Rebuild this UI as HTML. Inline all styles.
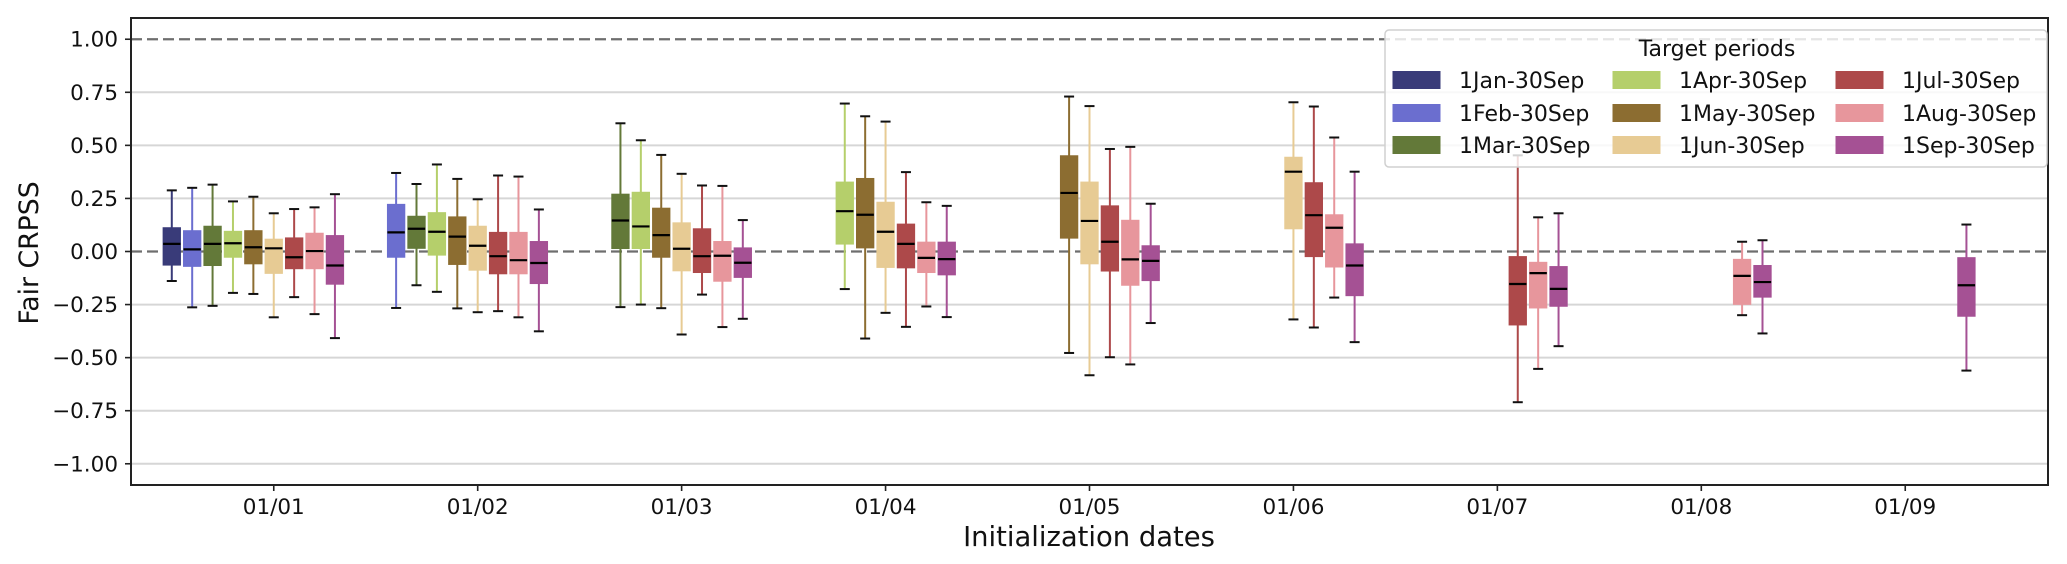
<!DOCTYPE html>
<html><head><meta charset="utf-8"><style>
html,body{margin:0;padding:0;background:#fff;}
svg{display:block;font-family:"DejaVu Sans","Liberation Sans",sans-serif;}
</style></head><body>
<svg id="chart" width="2067" height="564" viewBox="0 0 2067 564" xmlns="http://www.w3.org/2000/svg"></svg>
<script>
const categories = ["01/01","01/02","01/03","01/04","01/05","01/06","01/07","01/08","01/09"];
const seriesNames = ["1Jan-30Sep","1Feb-30Sep","1Mar-30Sep","1Apr-30Sep","1May-30Sep","1Jun-30Sep","1Jul-30Sep","1Aug-30Sep","1Sep-30Sep"];
const seriesColors = ["#393b79","#6b6ecf","#637939","#b5cf6b","#8c6d31","#e7cb94","#ad494a","#e7969c","#a55194"];
const yTicks = [1.0,0.75,0.5,0.25,0.0,-0.25,-0.5,-0.75,-1.0];
const yTickLabels = ["1.00","0.75","0.50","0.25","0.00","\u22120.25","\u22120.50","\u22120.75","\u22121.00"];
// each entry: [category index, series index, low whisker, q1, median, q3, high whisker]
const boxStats = [
 [0,0,-0.139,-0.064,0.036,0.112,0.288],
 [0,1,-0.263,-0.070,0.010,0.098,0.300],
 [0,2,-0.256,-0.066,0.036,0.119,0.315],
 [0,3,-0.195,-0.027,0.039,0.095,0.236],
 [0,4,-0.200,-0.058,0.020,0.098,0.258],
 [0,5,-0.310,-0.103,0.015,0.058,0.180],
 [0,6,-0.215,-0.081,-0.027,0.064,0.200],
 [0,7,-0.295,-0.081,0.002,0.086,0.208],
 [0,8,-0.408,-0.154,-0.066,0.075,0.270],
 [1,1,-0.266,-0.027,0.090,0.222,0.370],
 [1,2,-0.159,0.015,0.107,0.166,0.318],
 [1,3,-0.190,-0.017,0.093,0.183,0.410],
 [1,4,-0.268,-0.061,0.070,0.163,0.342],
 [1,5,-0.286,-0.088,0.027,0.119,0.246],
 [1,6,-0.281,-0.105,-0.022,0.090,0.358],
 [1,7,-0.310,-0.105,-0.041,0.090,0.353],
 [1,8,-0.376,-0.151,-0.054,0.047,0.198],
 [2,2,-0.262,0.014,0.146,0.270,0.604],
 [2,3,-0.250,0.014,0.118,0.279,0.524],
 [2,4,-0.267,-0.027,0.077,0.204,0.455],
 [2,5,-0.391,-0.091,0.013,0.135,0.366],
 [2,6,-0.203,-0.099,-0.022,0.107,0.311],
 [2,7,-0.356,-0.140,-0.020,0.047,0.309],
 [2,8,-0.317,-0.122,-0.053,0.017,0.148],
 [3,3,-0.177,0.035,0.190,0.327,0.697],
 [3,4,-0.410,0.017,0.173,0.344,0.637],
 [3,5,-0.289,-0.075,0.093,0.232,0.612],
 [3,6,-0.355,-0.077,0.036,0.129,0.374],
 [3,7,-0.259,-0.099,-0.030,0.044,0.232],
 [3,8,-0.309,-0.110,-0.036,0.044,0.215],
 [4,4,-0.478,0.063,0.276,0.451,0.730],
 [4,5,-0.583,-0.058,0.144,0.327,0.685],
 [4,6,-0.498,-0.092,0.046,0.215,0.483],
 [4,7,-0.532,-0.159,-0.037,0.147,0.493],
 [4,8,-0.337,-0.137,-0.044,0.027,0.225],
 [5,5,-0.320,0.107,0.376,0.444,0.703],
 [5,6,-0.358,-0.024,0.171,0.324,0.683],
 [5,7,-0.217,-0.073,0.112,0.173,0.537],
 [5,8,-0.427,-0.208,-0.066,0.036,0.376],
 [6,6,-0.710,-0.346,-0.153,-0.024,0.453],
 [6,7,-0.553,-0.266,-0.102,-0.051,0.161],
 [6,8,-0.446,-0.258,-0.176,-0.071,0.180],
 [7,7,-0.300,-0.249,-0.115,-0.037,0.046],
 [7,8,-0.386,-0.215,-0.144,-0.066,0.053],
 [8,8,-0.561,-0.305,-0.159,-0.029,0.127]
];

const NS="http://www.w3.org/2000/svg";
const svg=document.getElementById('chart');
const L=131,R=2048,T=18,B=485;
const xMin=-0.7,xMax=8.7,yMin=-1.1,yMax=1.1;
function xs(v){return L+(v-xMin)/(xMax-xMin)*(R-L);}
function ys(v){return T+(yMax-v)/(yMax-yMin)*(B-T);}
function mk(tag,attrs,parent){const e=document.createElementNS(NS,tag);for(const k in attrs)e.setAttribute(k,attrs[k]);(parent||svg).appendChild(e);return e;}

// grid
const grid=mk('g',{});


yTicks.forEach(v=>{
  if(v===1||v===0)return;
  const l=mk('line',{x1:L,x2:R,y1:ys(v),y2:ys(v),stroke:'#d6d6d6','stroke-width':2},grid);
  
  
});
[1,0].forEach(v=>{
  const l=mk('line',{x1:L,x2:R,y1:ys(v),y2:ys(v),stroke:'#6e6e6e','stroke-width':2.2,'stroke-dasharray':'11,5'},grid);
  
  
});

// boxes
const boxes=mk('g',{});


const bw=0.085;
boxStats.forEach(d=>{
  const [ci,si,lo,q1,med,q3,hi]=d;
  const c=xs(ci+(si-5)*0.1);
  const w=bw/(xMax-xMin)*(R-L);
  const col=seriesColors[si];
  const g=mk('g',{},boxes);
  
  
  mk('line',{x1:c,x2:c,y1:ys(hi),y2:ys(q3),stroke:col,'stroke-width':2},g);
  mk('line',{x1:c,x2:c,y1:ys(q1),y2:ys(lo),stroke:col,'stroke-width':2},g);
  mk('line',{x1:c-5,x2:c+5,y1:ys(hi),y2:ys(hi),stroke:'#111','stroke-width':2},g);
  mk('line',{x1:c-5,x2:c+5,y1:ys(lo),y2:ys(lo),stroke:'#111','stroke-width':2},g);
  mk('rect',{x:c-w/2,y:ys(q3),width:w,height:ys(q1)-ys(q3),fill:col,stroke:col,'stroke-width':1},g);
  mk('line',{x1:c-w/2,x2:c+w/2,y1:ys(med),y2:ys(med),stroke:'#000','stroke-width':2.2},g);
});

// frame
const fr=mk('rect',{x:L,y:T,width:R-L,height:B-T,fill:'none',stroke:'#222','stroke-width':2});



// y ticks
const yax=mk('g',{});


yTicks.forEach((v,i)=>{
  mk('line',{x1:L-6,x2:L,y1:ys(v),y2:ys(v),stroke:'#222','stroke-width':1.6},yax);
  const t=mk('text',{x:L-13,y:ys(v)+7.5,'text-anchor':'end','font-size':21.5,fill:'#111'},yax);
  t.textContent=yTickLabels[i];
  
  
});
const ylab=mk('text',{x:0,y:0,transform:'translate(38,253) rotate(-90)','text-anchor':'middle','font-size':26.7,fill:'#111'});
ylab.textContent='Fair CRPSS';



// x ticks
const xax=mk('g',{});


categories.forEach((c,i)=>{
  mk('line',{x1:xs(i),x2:xs(i),y1:B,y2:B+6,stroke:'#222','stroke-width':1.6},xax);
  const t=mk('text',{x:xs(i),y:514,'text-anchor':'middle','font-size':21.5,fill:'#111'},xax);
  t.textContent=c;
  
  
});
const xlab=mk('text',{x:1089,y:546,'text-anchor':'middle','font-size':27.4,fill:'#111'});
xlab.textContent='Initialization dates';



// legend
const lg=mk('g',{});


mk('rect',{x:1385,y:30,width:662,height:137,rx:4,fill:'rgba(255,255,255,0.82)',stroke:'#d0d0d0','stroke-width':1.5},lg);
const lt=mk('text',{x:1717,y:56,'text-anchor':'middle','font-size':22,fill:'#111'},lg);
lt.textContent='Target periods';


const colX=[1393,1613,1836];
const rowY=[80,113,145];
seriesNames.forEach((n,i)=>{
  const cx=colX[Math.floor(i/3)],cy=rowY[i%3];
  const e=mk('g',{},lg);
  
  
  mk('rect',{x:cx,y:cy-8.5,width:47,height:17,fill:seriesColors[i],stroke:seriesColors[i]},e);
  const t=mk('text',{x:cx+66,y:cy+8,'font-size':22,fill:'#111'},e);
  t.textContent=n;
});
</script>
</body></html>
